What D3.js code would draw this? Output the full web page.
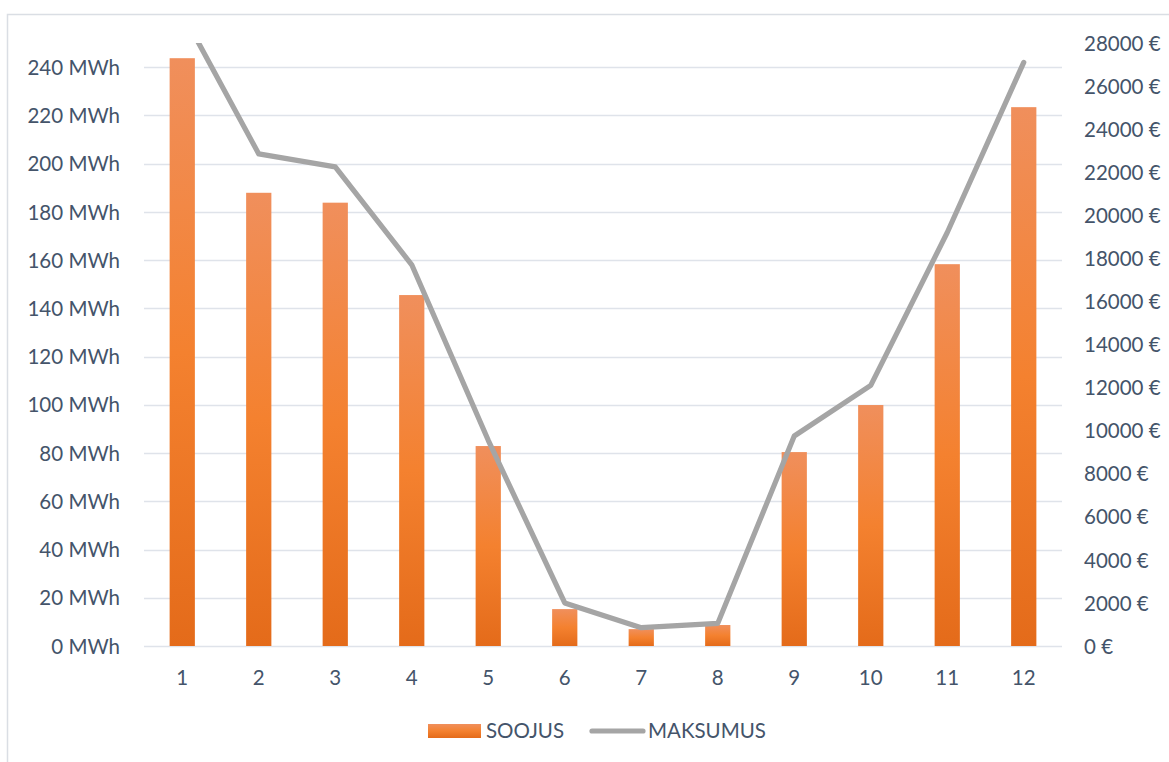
<!DOCTYPE html>
<html>
<head>
<meta charset="utf-8">
<script src="https://cdn.jsdelivr.net/npm/d3@7"></script>
<style>
  html, body { margin: 0; padding: 0; background: #ffffff; }
  svg { display: block; }
  text { font-family: Lato, "Open Sans", sans-serif; fill: #44546a; }
</style>
</head>
<body>
<svg id="chart" width="1169" height="762"></svg>
<script>
const months = ["1","2","3","4","5","6","7","8","9","10","11","12"];
const soojus = [243.7, 187.9, 183.8, 145.5, 82.9, 15.3, 7.0, 8.7, 80.4, 99.9, 158.3, 223.4];
const maksumus = [29400, 22850, 22250, 17700, 9550, 2000, 850, 1050, 9750, 12100, 19200, 27100];
const leftTicks = [0,20,40,60,80,100,120,140,160,180,200,220,240];
const rightTicks = [0,2000,4000,6000,8000,10000,12000,14000,16000,18000,20000,22000,24000,26000,28000];
const seriesNames = ["SOOJUS", "MAKSUMUS"];

const svg = d3.select("#chart");
const W = 1169, H = 762;
const plot = {left: 144, right: 1062, top: 43, bottom: 646};

// chart border (cropped at right / bottom)
svg.append("rect").attr("x", 7.5).attr("y", 14.5).attr("width", W + 20).attr("height", H + 20)
  .attr("fill", "#fff").attr("stroke", "#dadee4").attr("stroke-width", 1.5);

const defs = svg.append("defs");
const grad = defs.append("linearGradient").attr("id", "barGrad")
  .attr("x1", 0).attr("y1", 0).attr("x2", 0).attr("y2", 1);
grad.append("stop").attr("offset", "0%").attr("stop-color", "#f08f5c");
grad.append("stop").attr("offset", "50%").attr("stop-color", "#f4812f");
grad.append("stop").attr("offset", "100%").attr("stop-color", "#e46b1a");

defs.append("clipPath").attr("id", "plotClip").append("rect")
  .attr("x", plot.left).attr("y", plot.top)
  .attr("width", plot.right - plot.left).attr("height", plot.bottom - plot.top);

const x = d3.scaleBand().domain(months).range([plot.left, plot.right])
  .paddingInner(0.67).paddingOuter(0.335);
const yL = d3.scaleLinear().domain([0, 250]).range([plot.bottom, plot.top]);
const yR = d3.scaleLinear().domain([0, 28000]).range([plot.bottom, plot.top]);

// gridlines
svg.append("g").selectAll("line").data(leftTicks).join("line")
  .attr("x1", plot.left).attr("x2", plot.right)
  .attr("y1", d => Math.round(yL(d)) + 0.5).attr("y2", d => Math.round(yL(d)) + 0.5)
  .attr("stroke", "#dfe3ea").attr("stroke-width", 1.6);

// left axis
const axL = d3.axisLeft(yL).tickValues(leftTicks).tickSize(0).tickPadding(0)
  .tickFormat(d => d + " MWh");
const gL = svg.append("g").attr("transform", `translate(120,0)`).call(axL);
gL.select(".domain").remove();
gL.selectAll("text").style("font-size", "20.5px").attr("fill", "#44546a").attr("dy", "0.35em");

// right axis
const axR = d3.axisRight(yR).tickValues(rightTicks).tickSize(0).tickPadding(0)
  .tickFormat(d => d + " €");
const gR = svg.append("g").attr("transform", `translate(1084,0)`).call(axR);
gR.select(".domain").remove();
gR.selectAll("text").style("font-size", "20.5px").attr("fill", "#44546a").attr("dy", "0.35em");

// bottom axis
const axB = d3.axisBottom(x).tickSize(0).tickPadding(0);
const gB = svg.append("g").attr("transform", `translate(0,670)`).call(axB);
gB.select(".domain").remove();
gB.selectAll("text").style("font-size", "20.5px").attr("fill", "#44546a").attr("dy", "0.72em");

// bars
svg.append("g").selectAll("rect").data(soojus).join("rect")
  .attr("x", (d, i) => x(months[i]))
  .attr("width", x.bandwidth())
  .attr("y", d => yL(d))
  .attr("height", d => yL(0) - yL(d))
  .attr("fill", "url(#barGrad)");

// line
const line = d3.line()
  .x((d, i) => x(months[i]) + x.bandwidth() / 2)
  .y(d => yR(d));
svg.append("path").datum(maksumus)
  .attr("clip-path", "url(#plotClip)")
  .attr("d", line)
  .attr("fill", "none").attr("stroke", "#a5a5a5").attr("stroke-width", 5.2)
  .attr("stroke-linejoin", "round").attr("stroke-linecap", "round");

// legend
const lg = svg.append("g");
lg.append("rect").attr("x", 428).attr("y", 724).attr("width", 53).attr("height", 14)
  .attr("fill", "url(#barGrad)");
lg.append("text").attr("x", 486).attr("y", 738).style("font-size", "20.5px").text(seriesNames[0]);
lg.append("line").attr("x1", 592).attr("x2", 643).attr("y1", 731).attr("y2", 731)
  .attr("stroke", "#a5a5a5").attr("stroke-width", 5.2).attr("stroke-linecap", "round");
lg.append("text").attr("x", 648).attr("y", 738).style("font-size", "20.5px").text(seriesNames[1]);
</script>
</body>
</html>
